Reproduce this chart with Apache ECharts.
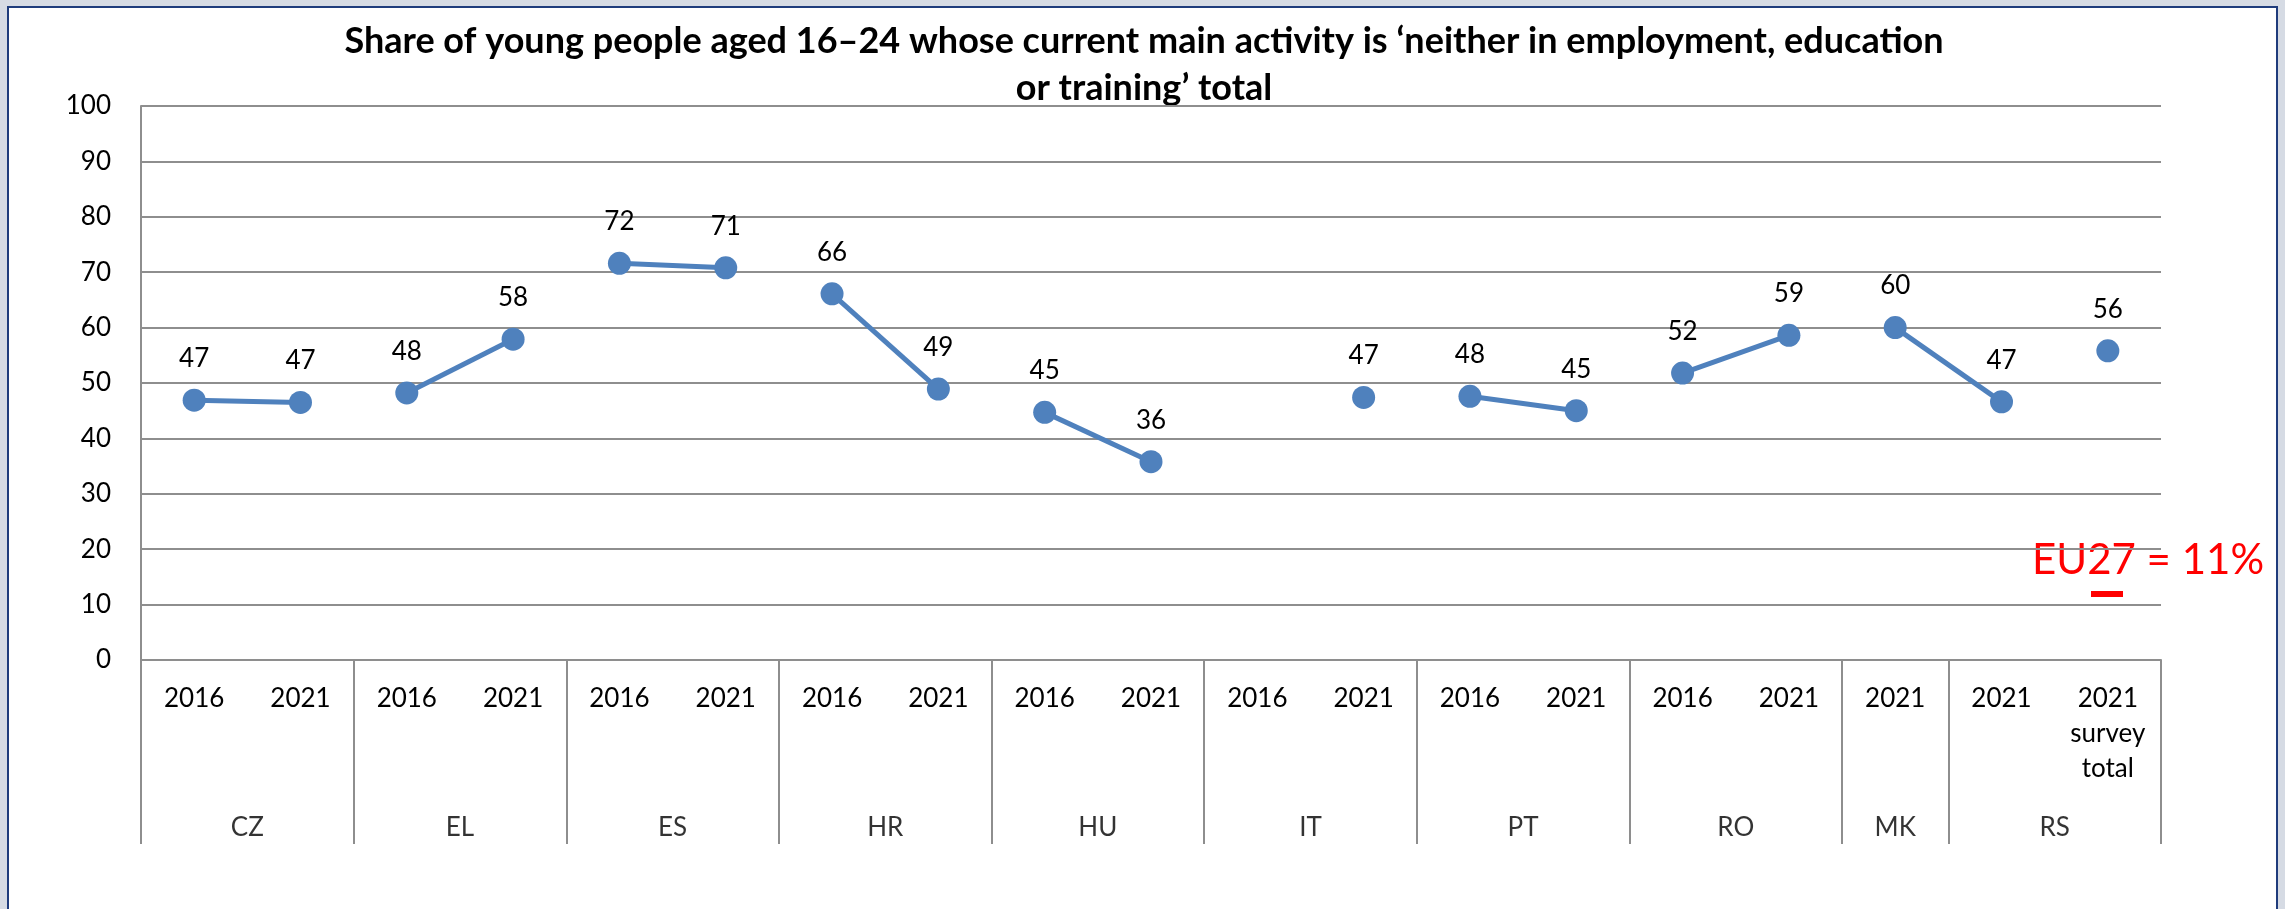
<!DOCTYPE html>
<html>
<head>
<meta charset="utf-8">
<script src="https://cdn.jsdelivr.net/npm/echarts@6/dist/echarts.min.js"></script>
<style>
  html, body { margin: 0; padding: 0; overflow: hidden; background: #d6dbe4; }
  #frame {
    position: absolute; left: 7px; top: 6px;
    width: 2267px; height: 930px;
    border: 2px solid #1f3c7c; background: #fff;
  }
  #chart { width: 2267px; height: 901px; }
</style>
</head>
<body>
<div id="frame"><div id="chart"></div></div>
<script>
// categories (year per country) and country groups
const years = ['2016', '2021', '2016', '2021', '2016', '2021', '2016', '2021', '2016', '2021',
  '2016', '2021', '2016', '2021', '2016', '2021', '2021', '2021', '2021\nsurvey\ntotal'];
const countries = ['CZ', 'EL', 'ES', 'HR', 'HU', 'IT', 'PT', 'RO', 'MK', 'RS'];
const countrySpan = [2, 2, 2, 2, 2, 2, 2, 2, 1, 2];

// share NEET (%)
const values = [46.9, 46.5, 48.2, 57.9, 71.6, 70.8, 66.1, 48.9, 44.7, 35.8,
  null, 47.4, 47.6, 45.0, 51.8, 58.6, 60.0, 46.6, 55.8];

// which points are joined by a line (index ranges)
const segments = [[0, 1], [2, 3], [4, 5], [6, 7], [8, 9], [11, 11], [12, 13], [14, 15], [16, 17], [18, 18]];

const yTicks = { min: 0, max: 100, step: 10 };

const titleText = 'Share of young people aged 16\u201324 whose current main activity is \u2018neither in employment, education\nor training\u2019 total';
const noteText = 'EU27 = 11%';

const font = 'Lato';
const blue = '#4f81bd';
const gridGray = '#8e8e8e';

// group start indices -> separators and label centres
const groupStart = [];
let acc = 0;
countrySpan.forEach(s => { groupStart.push(acc); acc += s; });

const lineSeries = segments.map(seg => ({
  type: 'line',
  xAxisIndex: 0, yAxisIndex: 0,
  data: values.map((v, i) => (i >= seg[0] && i <= seg[1]) ? v : null),
  symbol: 'circle',
  symbolSize: 23,
  itemStyle: { color: blue },
  lineStyle: { color: blue, width: 5 },
  label: {
    show: true, position: 'top', distance: 17,
    fontFamily: font, fontSize: 26, color: '#000',
    formatter: p => Math.round(p.value)
  },
  silent: true
}));

const chart = echarts.init(document.getElementById('chart'));
chart.setOption({
  animation: false,
  grid: [
    { left: 132, top: 98, width: 2020, height: 554 },
    { left: 132, top: 652, width: 2020, height: 184 }
  ],
  xAxis: [
    {
      type: 'category', gridIndex: 0, data: years,
      axisLine: { lineStyle: { color: gridGray, width: 2 } },
      axisTick: {
        show: true, alignWithLabel: false, length: 184,
        interval: i => groupStart.indexOf(i) >= 0,
        lineStyle: { color: gridGray, width: 2 }
      },
      axisLabel: { interval: 0, margin: 21, fontFamily: font, fontSize: 26, color: '#000', lineHeight: 35 }
    },
    { type: 'value', gridIndex: 1, min: 0, max: years.length, show: false }
  ],
  yAxis: [
    {
      type: 'value', gridIndex: 0, min: yTicks.min, max: yTicks.max, interval: yTicks.step,
      axisLine: { show: true, lineStyle: { color: gridGray, width: 2 } },
      axisTick: { show: false },
      splitLine: { lineStyle: { color: gridGray, width: 2 } },
      axisLabel: { margin: 30, fontFamily: font, fontSize: 26, color: '#000' }
    },
    { type: 'value', gridIndex: 1, min: 0, max: 1, show: false }
  ],
  series: lineSeries.concat([{
    type: 'scatter',
    xAxisIndex: 1, yAxisIndex: 1,
    symbolSize: 1,
    itemStyle: { color: 'transparent' },
    data: countries.map((c, k) => ({ name: c, value: [groupStart[k] + countrySpan[k] / 2, 0.087] })),
    label: {
      show: true, position: 'inside', formatter: p => p.name,
      fontFamily: font, fontSize: 26, color: '#000'
    },
    silent: true
  }]),
  graphic: [
    {
      type: 'text', x: 1135, y: 10,
      style: {
        text: titleText, fill: '#000', align: 'center', verticalAlign: 'top',
        font: 'bold 36px Lato', lineHeight: 47
      }
    },
    {
      type: 'text', left: 2023, top: 531,
      style: { text: noteText, fill: '#ff0000', font: '42px Lato' }
    },
    {
      type: 'rect', shape: { x: 2082, y: 583, width: 32, height: 6 },
      style: { fill: '#ff0000' }
    }
  ]
});
</script>
</body>
</html>
